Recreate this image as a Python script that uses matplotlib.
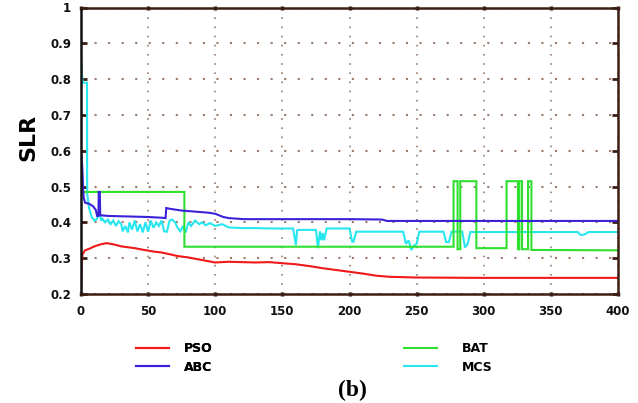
import numpy as np
import matplotlib
matplotlib.use("Agg")
import matplotlib.pyplot as plt

# iteration / SLR traces for the four algorithms
pso_x = [0, 0.5, 1, 3, 6, 10, 15, 19, 25, 30, 40, 47, 55, 60, 72, 80, 90, 100, 110, 120,
         130, 140, 150, 160, 170, 180, 190, 200, 210, 220, 230, 240, 250, 300, 350, 400]
pso_y = [0.2, 0.27, 0.31, 0.322, 0.326, 0.333, 0.339, 0.342, 0.338, 0.333, 0.328, 0.323,
         0.318, 0.316, 0.306, 0.302, 0.295, 0.288, 0.29, 0.289, 0.288, 0.289, 0.286, 0.283,
         0.278, 0.272, 0.267, 0.262, 0.257, 0.251, 0.248, 0.247, 0.246, 0.245, 0.245, 0.245]

abc_x = [0, 0.5, 1, 1.5, 2, 3, 6, 9, 11, 12, 13, 13.2, 14, 14.3, 20, 30, 40, 50, 60, 63,
         63.5, 66, 75, 85, 95, 100, 106, 110, 121, 130, 150, 200, 224, 228, 300, 400]
abc_y = [0.6, 0.58, 0.55, 0.5, 0.47, 0.455, 0.452, 0.445, 0.435, 0.418, 0.418, 0.485,
         0.485, 0.42, 0.418, 0.417, 0.416, 0.415, 0.413, 0.412, 0.44, 0.438, 0.433, 0.43,
         0.427, 0.424, 0.415, 0.412, 0.409, 0.409, 0.409, 0.409, 0.408, 0.404, 0.404, 0.404]

bat_x = [0, 77, 77, 277.5, 277.5, 280.5, 280.5, 282.5, 282.5, 294.5, 294.5, 317, 317,
         325.5, 325.5, 326.5, 326.5, 328.5, 328.5, 333, 333, 335.5, 335.5, 400]
bat_y = [0.485, 0.485, 0.332, 0.332, 0.515, 0.515, 0.325, 0.325, 0.515, 0.515, 0.328,
         0.328, 0.515, 0.515, 0.325, 0.325, 0.515, 0.515, 0.325, 0.325, 0.515, 0.515,
         0.323, 0.322]

mcs_x = [0, 1, 1.5, 4.5, 4.6, 6, 8, 10, 12, 14, 15, 16, 18, 20, 22, 24, 26, 28, 30, 31,
         33, 35, 36, 38, 40, 42, 44, 46, 48, 50, 52, 54, 56, 58, 60, 62, 64, 66, 68, 70,
         72, 74, 76, 78, 80, 82, 85, 88, 90, 93, 96, 100, 105, 110, 115, 120, 130, 140,
         150, 158, 160, 161, 162, 165, 175, 176.5, 178, 179, 180, 181, 183, 190, 200,
         202, 203, 205, 210, 240, 242, 244, 246, 248, 250, 252, 270, 272, 274, 276, 284,
         286, 288, 290, 370, 372, 375, 378, 400]
mcs_y = [0.85, 0.8, 0.79, 0.79, 0.48, 0.44, 0.415, 0.405, 0.41, 0.43, 0.405, 0.41, 0.4,
         0.408, 0.395, 0.405, 0.39, 0.403, 0.395, 0.375, 0.39, 0.372, 0.4, 0.38, 0.405,
         0.375, 0.395, 0.372, 0.4, 0.374, 0.405, 0.385, 0.4, 0.39, 0.405, 0.375, 0.374,
         0.405, 0.408, 0.4, 0.385, 0.375, 0.39, 0.372, 0.4, 0.39, 0.405, 0.395, 0.4, 0.392,
         0.398, 0.39, 0.395, 0.386, 0.385, 0.384, 0.384, 0.383, 0.383, 0.383, 0.337, 0.378,
         0.379, 0.379, 0.379, 0.328, 0.375, 0.35, 0.37, 0.35, 0.383, 0.383, 0.383, 0.346,
         0.346, 0.374, 0.374, 0.374, 0.34, 0.35, 0.323, 0.335, 0.34, 0.374, 0.374, 0.345,
         0.345, 0.374, 0.374, 0.33, 0.34, 0.373, 0.373, 0.365, 0.366, 0.373, 0.373]

series = [("PSO", pso_x, pso_y, "#f01818"),
          ("ABC", abc_x, abc_y, "#3a22d8"),
          ("BAT", bat_x, bat_y, "#2ee02e"),
          ("MCS", mcs_x, mcs_y, "#28e6f0")]

y_ticks = [0.2, 0.3, 0.4, 0.5, 0.6, 0.7, 0.8, 0.9, 1.0]
y_labels = ["0.2", "0.3", "0.4", "0.5", "0.6", "0.7", "0.8", "0.9", "1"]
x_ticks = [0, 50, 100, 150, 200, 250, 300, 350, 400]

frame = "#3d1e14"
dots = "#9a7a6a"

fig = plt.figure(figsize=(6.38, 4.03), dpi=100)
ax = fig.add_axes([81 / 638, 1 - 294 / 403, (618 - 81) / 638, (294 - 7.5) / 403])

handles = {}
for name, xs, ys, col in [series[3], series[2], series[1], series[0]]:
    ln, = ax.plot(xs, ys, color=col, lw=1.5, solid_joinstyle="miter")
    handles[name] = ln

ax.set_xlim(0, 400)
ax.set_ylim(0.2, 1.0)
ax.set_xticks(x_ticks)
ax.set_xticklabels([str(t) for t in x_ticks])
ax.set_yticks(y_ticks)
ax.set_yticklabels(y_labels)

# dotted grid: denser dots on the vertical lines
ax.xaxis.grid(True, color=dots, linestyle=(0, (1, 4.5)), lw=1.2)
ax.yaxis.grid(True, color=dots, linestyle=(0, (1, 5.5)), lw=1.5)
ax.set_axisbelow(True)

for s in ax.spines.values():
    s.set_color(frame)
    s.set_linewidth(1.8)
ax.spines["left"].set_color("#111111")

ax.tick_params(axis="x", which="both", direction="inout", length=3.5, width=2.5,
               color=frame, top=True, bottom=True, pad=6)
ax.tick_params(axis="y", which="both", direction="in", length=4, width=2,
               color=frame, left=True, right=True, pad=7)
for lab in ax.get_xticklabels() + ax.get_yticklabels():
    lab.set_fontweight("bold")
    lab.set_fontsize(8.5)
    lab.set_color("#111111")

fig.text(28 / 638, 1 - 137 / 403, "SLR", rotation=90, fontsize=16, fontweight="bold",
         ha="center", va="center")

legend_kw = dict(loc="upper left", frameon=False, prop={"weight": "bold", "size": 9},
                 handlelength=2.6, labelspacing=0.45, borderpad=0, borderaxespad=0)
leg1 = fig.legend([handles["PSO"], handles["ABC"]], ["PSO", "ABC"],
                  bbox_to_anchor=(136 / 638, 1 - 342 / 403), handletextpad=1.2, **legend_kw)
fig.legend([handles["BAT"], handles["MCS"]], ["BAT", "MCS"],
           bbox_to_anchor=(404 / 638, 1 - 342 / 403), handletextpad=2.0, **legend_kw)
fig.add_artist(leg1)

fig.text(352 / 638, 1 - 390 / 403, "(b)", fontsize=17, fontweight="bold",
         family="Liberation Serif", ha="center", va="center")

fig.savefig("out.png", dpi=100)
